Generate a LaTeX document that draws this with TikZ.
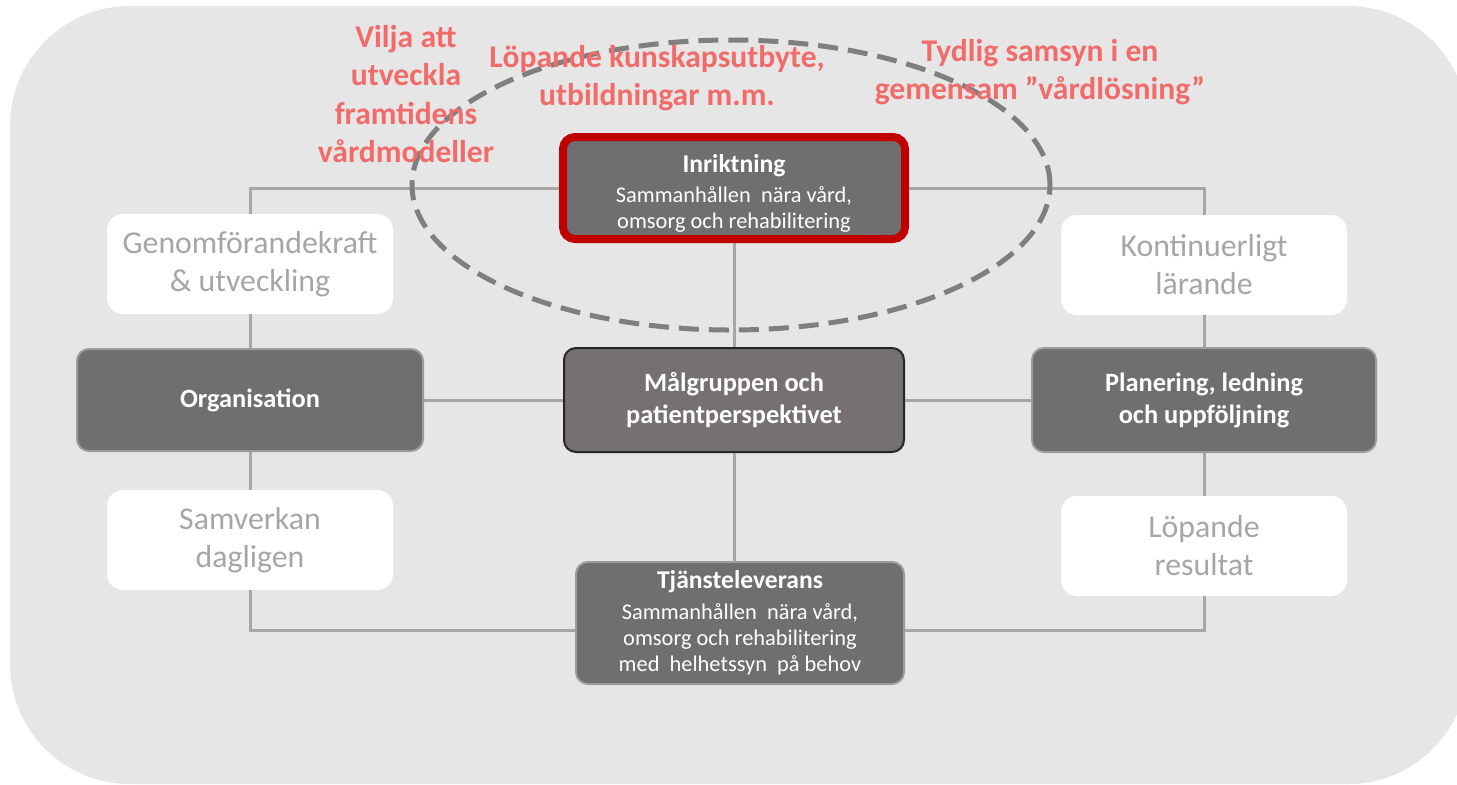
\documentclass[tikz,border=0pt]{standalone}
\usepackage{fontspec}
\setmainfont{Carlito}
\usetikzlibrary{positioning}

\definecolor{bggray}{HTML}{E6E6E6}
\definecolor{boxgray}{HTML}{6F6F6F}
\definecolor{boxedge}{HTML}{9C9C9C}
\definecolor{centergray}{HTML}{767171}
\definecolor{linkgray}{HTML}{A6A6A6}
\definecolor{softtext}{HTML}{A6A6A6}
\definecolor{notered}{HTML}{F26B6B}
\definecolor{framered}{HTML}{C00000}
\definecolor{dashgray}{HTML}{7F7F7F}

\tikzset{
  darkbox/.style={draw=boxedge, line width=1pt, fill=boxgray, rounded corners=6pt,
    text=white, align=center, inner sep=0pt,
    font=\fontsize{13.2}{16}\selectfont\bfseries},
  headbox/.style={darkbox, font=\fontsize{11.2}{13}\selectfont},
  softbox/.style={fill=white, rounded corners=8pt, text=softtext, align=center,
    inner sep=0pt, minimum width=143pt, minimum height=50pt,
    font=\fontsize{15.9}{19}\selectfont},
  note/.style={text=notered, align=center, inner sep=0pt,
    font=\fontsize{15.8}{19.3}\selectfont\bfseries},
  link/.style={draw=linkgray, line width=1.5pt}
}
\newcommand{\headline}[1]{{\fontsize{12.8}{13}\selectfont\bfseries #1}}

\begin{document}
\begin{tikzpicture}[x=0.5pt, y=-0.5pt]
  \useasboundingbox (0,0) rectangle (1457,784);
  \fill[bggray, rounded corners=60pt] (10,6) rectangle (1468,784);

  % boxes
  \node[headbox, draw=framered, line width=4pt, minimum width=171pt, minimum height=51pt]
    (inr) at (734,188) {\raisebox{-6.3pt}[0pt][0pt]{\begin{tabular}{@{}c@{}}\headline{Inriktning}\\[2pt]
      Sammanhållen\ \ nära vård,\\omsorg och rehabilitering\end{tabular}}};
  \node[softbox] (genom) at (250,264) {Genomförandekraft\\\& utveckling};
  \node[softbox] (kont) at (1204,265) {Kontinuerligt\\lärande};
  \node[darkbox, minimum width=173pt, minimum height=51pt] (org) at (250,400) {Organisation};
  \node[darkbox, fill=centergray, draw=black!85, minimum width=170pt, minimum height=52pt]
    (malg) at (734,400) {Målgruppen och\\patientperspektivet};
  \node[darkbox, minimum width=172pt, minimum height=52pt] (plan) at (1204,400)
    {Planering, ledning\\och uppföljning};
  \node[softbox] (samv) at (250,540) {Samverkan\\dagligen};
  \node[softbox] (lop) at (1204,546) {Löpande\\resultat};
  \node[headbox, minimum width=164pt, minimum height=61pt] (tjan) at (740,623)
    {\headline{Tjänsteleverans}\\[2.5pt]Sammanhållen\ \ nära vård,\\omsorg och rehabilitering\\med\ \ helhetssyn\ \ på behov};

  % connectors
  \draw[link] (inr.west) -| (genom.north);
  \draw[link] (genom) -- (org);
  \draw[link] (org) -- (samv);
  \draw[link] (samv.south) |- ([yshift=-3.5pt]tjan.west);
  \draw[link] (inr.east) -| (kont.north);
  \draw[link] (kont) -- (plan);
  \draw[link] (plan) -- (lop);
  \draw[link] (lop.south) |- ([yshift=-3.5pt]tjan.east);
  \draw[link] (org) -- (malg);
  \draw[link] (malg) -- (plan);
  \draw[link] (inr) -- (malg);
  \draw[link] (malg.south) -- (malg.south |- tjan.north);

  % the dashed focus ring
  \draw[dashgray, line width=2.5pt, dash pattern=on 10pt off 5pt]
    (731,185) ellipse [x radius=159.5pt, y radius=72.5pt];

  % notes
  \node[note] (vilja) at (406,94) {Vilja att\\utveckla\\framtidens\\vårdmodeller};
  \node[note] (kunskap) at (657,78) {Löpande kunskapsutbyte,\\utbildningar m.m.};
  \node[note] (samsyn) at (1040,72) {Tydlig samsyn i en\\gemensam ”vårdlösning”};
\end{tikzpicture}
\end{document}
